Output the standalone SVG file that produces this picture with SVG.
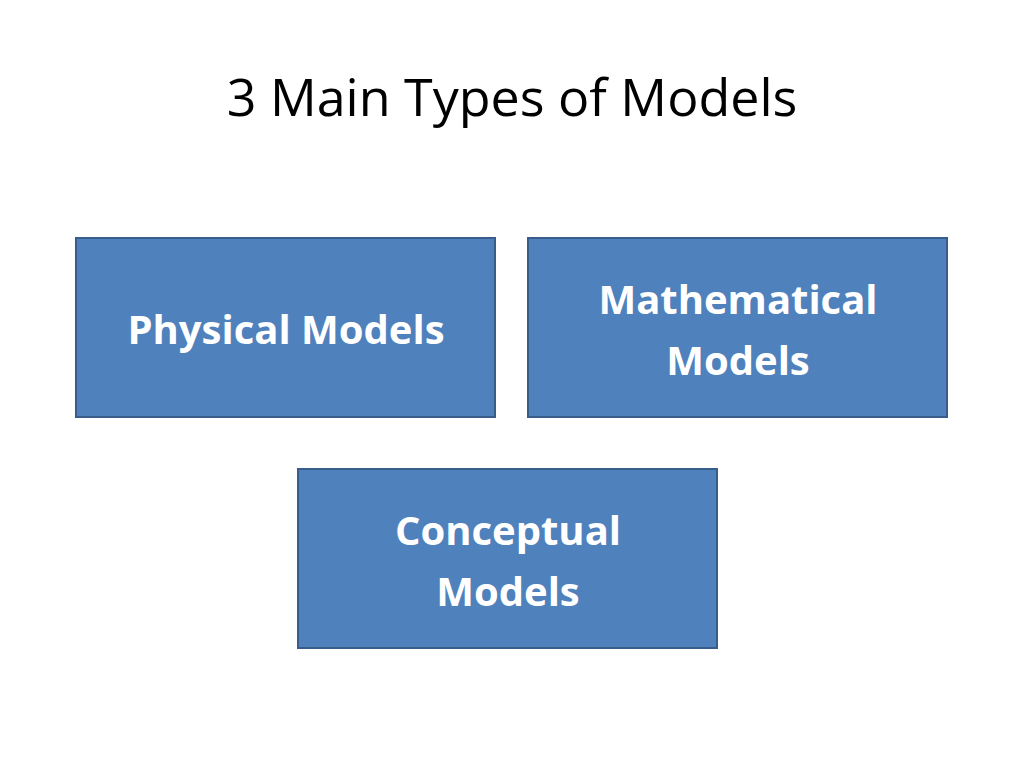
<svg xmlns="http://www.w3.org/2000/svg" width="1024" height="768" viewBox="0 0 1024 768">
<style>
.box{fill:#4f81bd;stroke:#385d8a;stroke-width:2}
.lbl{font-family:"Open Sans","Liberation Sans",sans-serif;font-weight:bold;font-size:40px;fill:#fff;text-anchor:middle}
</style>
<rect width="1024" height="768" fill="#fff"/>
<text x="512" y="116" font-family="Open Sans,Liberation Sans,sans-serif" font-size="52" text-anchor="middle" fill="#000">3 Main Types of Models</text>
<g id="physical"><rect class="box" x="76" y="238" width="419" height="179"/><text class="lbl" x="286" y="344">Physical Models</text></g>
<g id="mathematical"><rect class="box" x="528" y="238" width="419" height="179"/><text class="lbl" x="738" y="314">Mathematical</text><text class="lbl" x="738" y="375">Models</text></g>
<g id="conceptual"><rect class="box" x="298" y="469" width="419" height="179"/><text class="lbl" x="508" y="545">Conceptual</text><text class="lbl" x="508" y="606">Models</text></g>
<g id="connectors"/>
</svg>
